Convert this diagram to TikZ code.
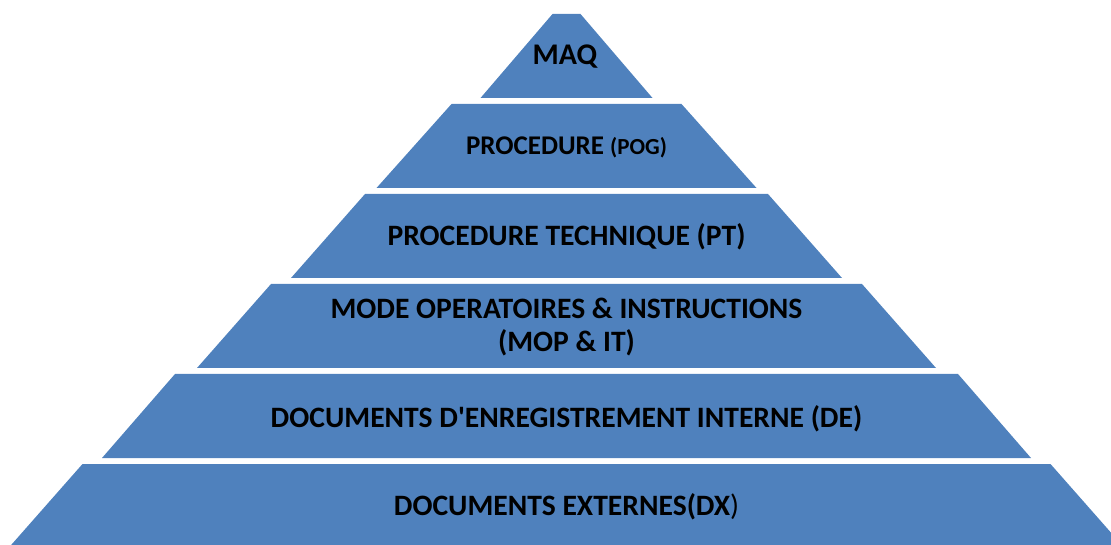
\documentclass[tikz,border=0pt]{standalone}
\usepackage{fontspec}
\setmainfont{Carlito}[Ligatures=TeXOff]
\begin{document}
\begin{tikzpicture}[x=1pt,y=1pt,
  tier/.style={fill=tierblue,draw=none},
  lbl/.style={font=\bfseries\fontsize{29.6}{31}\selectfont,anchor=base,inner sep=0pt,text=black}]
\definecolor{tierblue}{HTML}{4F81BD}
\useasboundingbox (0,0) rectangle (1111,544);
\begin{scope}
\clip (0,0) rectangle (1111,544);
% tiers: top y, bottom y, top half-width, bottom half-width (image coords)
\foreach \ty/\by/\tw/\bw in {14/98/14/86, 104/188/115/190, 194/278/201.5/275.5, 284/368/295.5/369.5, 374/458/391.5/464.5, 464/548/484/558}{
  \fill[tier] (566.5-\tw,544-\ty) -- (566.5+\tw,544-\ty) -- (566.5+\bw,544-\by) -- (566.5-\bw,544-\by) -- cycle;
}
\end{scope}
\node[lbl,font=\bfseries\fontsize{30}{32}\selectfont] (maq) at (565,544-65) {MAQ};
\node[lbl,font=\bfseries\fontsize{27}{29}\selectfont] (pog) at (566.5,544-155) {PROCEDURE {\fontsize{23}{25}\selectfont(POG)}};
\node[lbl] (pt) at (566.5,544-246) {PROCEDURE TECHNIQUE (PT)};
\node[lbl] (mop1) at (566.5,544-319) {MODE OPERATOIRES \& INSTRUCTIONS};
\node[lbl] (mop2) at (566.5,544-351) {(MOP \& IT)};
\node[lbl] (de) at (566.5,544-427) {DOCUMENTS D'ENREGISTREMENT INTERNE (DE)};
\node[lbl] (dx) at (566.5,544-515) {DOCUMENTS EXTERNES(DX{\mdseries)}};
\end{tikzpicture}
\end{document}
